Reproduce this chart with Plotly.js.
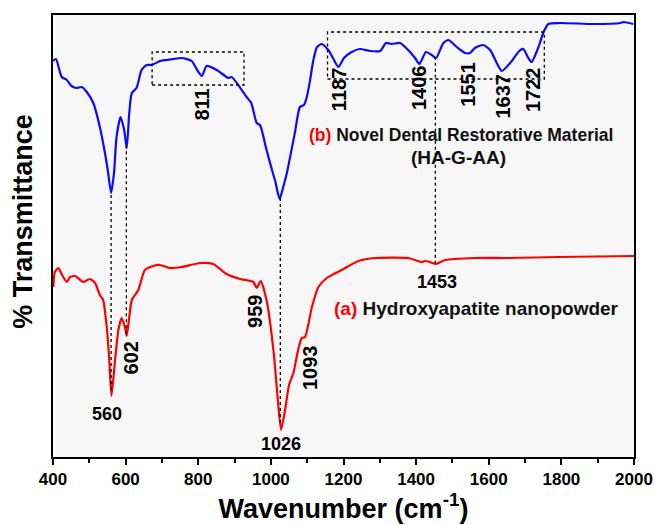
<!DOCTYPE html>
<html>
<head>
<meta charset="utf-8">
<script src="https://cdn.plot.ly/plotly-3.0.1.min.js"></script>
<style>html,body{margin:0;padding:0;background:#fff;}#chart{width:655px;height:525px;}</style>
</head>
<body>
<div id="chart"></div>
<script>
// Sample (b): Novel Dental Restorative Material (HA-G-AA), transmittance in arbitrary units
const wnB = [400,408,424,438,451,465,479,493,511,529,543,552,560,568,575,586,596,603,610,617,630,644,658,672,695,713,754,782,797,810,823,851,883,892,933,946,961,970,988,1007,1012,1024,1034,1044,1066,1080,1091,1099,1108,1117,1127,1140,1158,1171,1186,1201,1218,1245,1273,1301,1317,1333,1356,1378,1397,1409,1427,1443,1455,1475,1489,1512,1535,1548,1562,1585,1604,1622,1636,1659,1684,1695,1709,1718,1737,1750,1764,1796,1888,1962,1971,1998];
const tB  = [396,398,380,377,371,369,370,365,354,330,304,284,264,284,320,340,327,309,344,364,369,387,392,392,396,397,399,396,387,381,391,387,379,380,360,354,334,332,307,282,276,258,270,284,324,350,352,360,377,397,410,413,407,399,390,399,404,408,406,406,414,413,414,407,399,393,405,402,399,414,417,410,404,404,409,412,407,394,386,394,406,408,399,395,410,424,433,434,433,434,435,433];

// Sample (a): Hydroxyapatite nanopowder
const wnA = [401,405,415,425,438,447,461,472,483,502,516,529,538,548,555,561,571,580,589,598,603,610,617,635,653,676,695,722,754,805,841,878,915,952,961,972,988,1007,1018,1028,1039,1050,1062,1075,1085,1094,1113,1131,1154,1195,1241,1287,1378,1415,1424,1438,1455,1480,1562,1654,1792,2000];
const tA  = [170,185,189,182,175,180,181,178,175,178,174,162,157,130,97,61,97,127,139,130,121,140,157,167,187,191,192,189,190,194,193,183,178,175,169,176,157,107,62,27,47,72,84,107,119,120,150,170,179,187,196,199,199,195,196,195,193,197,199,199,200,201];

// Peak labels
const peaksB = ["811","1187","1406","1551","1637","1722"];
const peaksBx = [809,1188,1408,1542,1638,1722];
const peaksBy = [352,367,369,373,361,367];
const peaksA = ["602","959","1093"];
const peaksAx = [616,956,1108];
const peaksAy = [99,146,89];
const peaksAh = ["560","1026","1453"];
const peaksAhx = [550,1029,1457];
const peaksAhy = [43,13,175];

// Vertical guide lines linking peaks
const linkPeaks = [560,602,1026,1453];
// Dotted boxes [x0,x1,y0,y1]
const boxX0 = [673,1156];
const boxX1 = [926,1753];
const boxY0 = [372,378];
const boxY1 = [405,425];

const xTicks = [400,600,800,1000,1200,1400,1600,1800,2000];

function interp(xs, ys, x){
  for(let i=0;i<xs.length-1;i++){
    if(x>=xs[i] && x<=xs[i+1]){
      const f=(x-xs[i])/(xs[i+1]-xs[i]);
      return ys[i]+f*(ys[i+1]-ys[i]);
    }
  }
  return ys[ys.length-1];
}

const FONT = "Arial, 'Liberation Sans', sans-serif";

const traces = [
  {x: wnB, y: tB, mode:'lines', line:{color:'#0a0aff', width:2.2, shape:'spline', smoothing:0.6}, hoverinfo:'skip'},
  {x: wnA, y: tA, mode:'lines', line:{color:'#ff0000', width:2.2, shape:'spline', smoothing:0.6}, hoverinfo:'skip'}
];

const shapes = [];
linkPeaks.forEach(p=>{
  shapes.push({type:'line', xref:'x', yref:'y', x0:p, x1:p,
    y0: interp(wnA,tA,p), y1: interp(wnB,tB,p),
    line:{color:'#000', width:1.3, dash:'dot'}});
});
for(let i=0;i<boxX0.length;i++){
  shapes.push({type:'rect', xref:'x', yref:'y', x0:boxX0[i], x1:boxX1[i], y0:boxY0[i], y1:boxY1[i],
    line:{color:'#000', width:1.3, dash:'dot'}, fillcolor:'rgba(0,0,0,0)'});
}

const annotations = [];
function rot(t,x,y){
  annotations.push({text:'<b>'+t+'</b>', x:x, y:y, xref:'x', yref:'y', showarrow:false, textangle:-90,
    xanchor:'center', yanchor:'middle', font:{family:FONT, size:20, color:'#000'}});
}
function hor(t,x,y){
  annotations.push({text:'<b>'+t+'</b>', x:x, y:y, xref:'x', yref:'y', showarrow:false,
    xanchor:'center', yanchor:'middle', font:{family:FONT, size:18, color:'#000'}});
}
peaksB.forEach((t,i)=>rot(t,peaksBx[i],peaksBy[i]));
peaksA.forEach((t,i)=>rot(t,peaksAx[i],peaksAy[i]));
peaksAh.forEach((t,i)=>hor(t,peaksAhx[i],peaksAhy[i]));

annotations.push({text:'<b><span style="color:#ff0000">(b)</span> Novel Dental Restorative Material</b>',
  x:1100, y:322, xref:'x', yref:'y', showarrow:false, xanchor:'left', yanchor:'middle',
  font:{family:FONT, size:17.5, color:'#111'}});
annotations.push({text:'<b>(HA-G-AA)</b>', x:1518, y:300, xref:'x', yref:'y', showarrow:false,
  xanchor:'center', yanchor:'middle', font:{family:FONT, size:19, color:'#111'}});
annotations.push({text:'<b><span style="color:#ff0000">(a)</span> Hydroxyapatite nanopowder</b>',
  x:1167, y:149, xref:'x', yref:'y', showarrow:false, xanchor:'left', yanchor:'middle',
  font:{family:FONT, size:19, color:'#111'}});
annotations.push({text:'<b>% Transmittance</b>', x:-0.052, y:0.534, xref:'paper', yref:'paper',
  showarrow:false, textangle:-90, xanchor:'center', yanchor:'middle',
  font:{family:FONT, size:27, color:'#000'}});

const layout = {
  width:655, height:525,
  margin:{l:53, r:21, t:15, b:68},
  paper_bgcolor:'#ffffff',
  plot_bgcolor:'#f7f7f7',
  showlegend:false,
  xaxis:{
    range:[400,2000], tickvals:xTicks, ticktext:xTicks.map(v=>'<b>'+v+'</b>'),
    ticks:'outside', ticklen:6, tickwidth:2, tickcolor:'#000',
    minor:{ticks:'outside', ticklen:4, tickwidth:2, tickcolor:'#000', dtick:100, tick0:400},
    showline:true, linecolor:'#000', linewidth:2, mirror:true,
    showgrid:false, zeroline:false,
    tickfont:{family:FONT, size:17, color:'#000', weight:700},
    title:{text:'<b>Wavenumber (cm<sup>-1</sup>)</b>', font:{family:FONT, size:27, color:'#000'}, standoff:10}
  },
  yaxis:{
    range:[0,442], showticklabels:false, ticks:'',
    showline:true, linecolor:'#000', linewidth:2, mirror:true,
    showgrid:false, zeroline:false
  },
  shapes:shapes,
  annotations:annotations
};

Plotly.newPlot('chart', traces, layout, {staticPlot:true, displayModeBar:false});
</script>
</body>
</html>
